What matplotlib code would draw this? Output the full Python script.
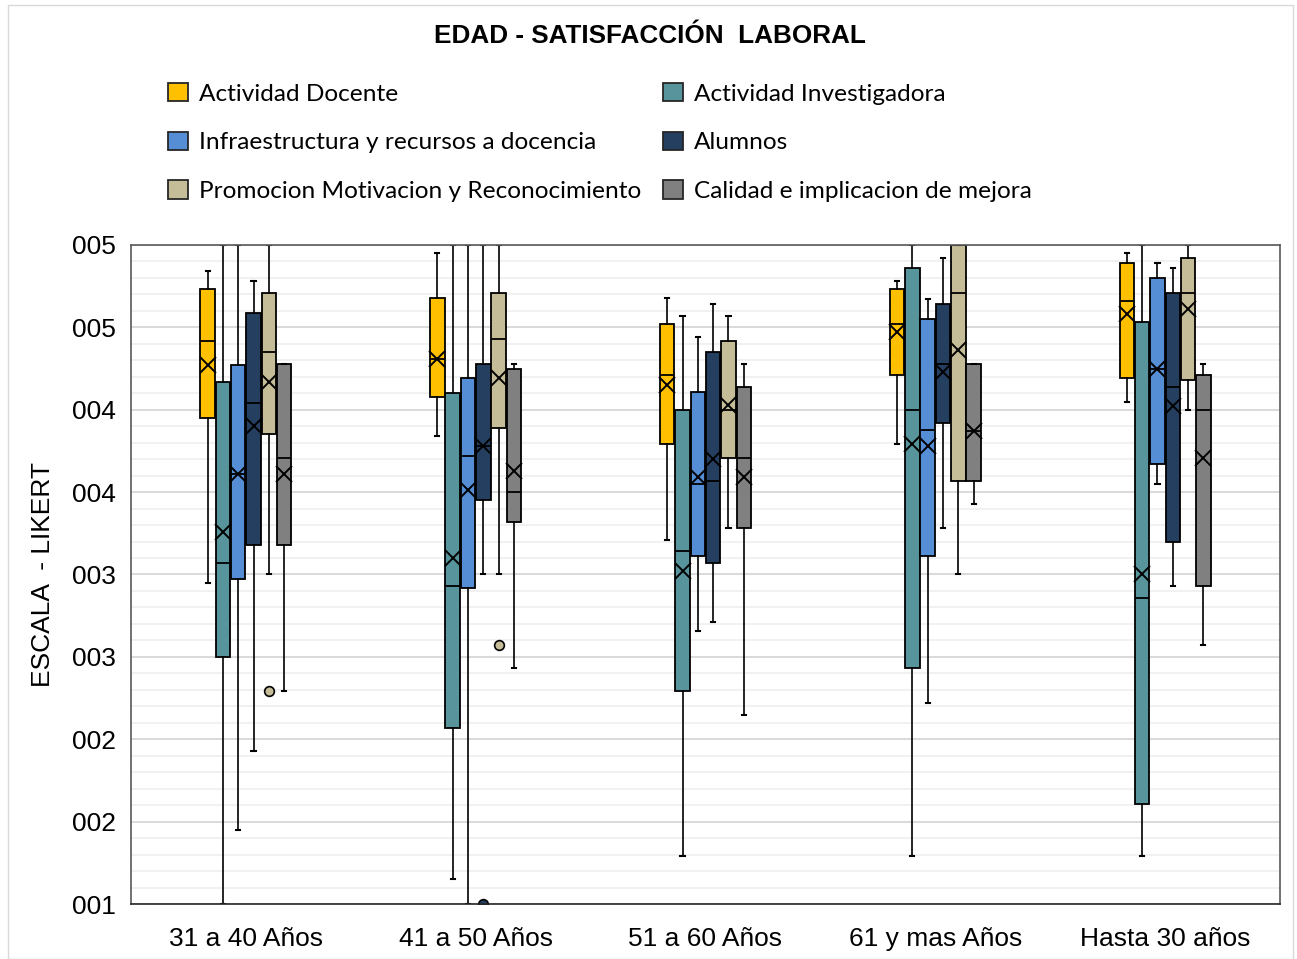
import matplotlib
matplotlib.use("Agg")
import matplotlib.pyplot as plt
from matplotlib.patches import Patch, Rectangle
from matplotlib.ticker import MultipleLocator, FuncFormatter
import numpy as np

categories = ["31 a 40 Años", "41 a 50 Años", "51 a 60 Años", "61 y mas Años", "Hasta 30 años"]
series = ["Actividad Docente", "Actividad Investigadora", "Infraestructura y recursos a docencia",
          "Alumnos", "Promocion Motivacion y Reconocimiento", "Calidad e implicacion de mejora"]
colors = ["#FFC000", "#58949C", "#558ED5", "#243F60", "#C4BD97", "#808080"]

# per series: lists over categories
whislo = [
    [2.95, 3.84, 3.21, 3.79, 4.05],
    [1.00, 1.15, 1.29, 1.29, 1.29],
    [1.45, 1.00, 2.66, 2.22, 3.55],
    [1.93, 3.00, 2.71, 3.28, 2.93],
    [3.00, 3.00, 3.28, 3.00, 4.00],
    [2.29, 2.43, 2.15, 3.43, 2.57],
]
q1 = [
    [3.95, 4.08, 3.79, 4.21, 4.19],
    [2.50, 2.07, 2.29, 2.43, 1.61],
    [2.97, 2.92, 3.11, 3.11, 3.67],
    [3.18, 3.45, 3.07, 3.92, 3.20],
    [3.85, 3.89, 3.71, 3.57, 4.18],
    [3.18, 3.32, 3.28, 3.57, 2.93],
]
med = [
    [4.42, 4.31, 4.21, 4.52, 4.66],
    [3.07, 2.93, 3.14, 4.00, 2.86],
    [3.61, 3.72, 3.55, 3.88, 4.25],
    [4.04, 3.78, 3.57, 4.28, 4.14],
    [4.35, 4.43, 4.00, 4.71, 4.71],
    [3.71, 3.50, 3.71, 3.87, 4.00],
]
q3 = [
    [4.73, 4.68, 4.52, 4.73, 4.89],
    [4.17, 4.10, 4.00, 4.86, 4.53],
    [4.27, 4.19, 4.11, 4.55, 4.80],
    [4.59, 4.28, 4.35, 4.64, 4.71],
    [4.71, 4.71, 4.42, 5.00, 4.92],
    [4.28, 4.25, 4.14, 4.28, 4.21],
]
whishi = [
    [4.84, 4.95, 4.68, 4.78, 4.95],
    [5.00, 5.00, 4.57, 5.00, 5.00],
    [5.00, 5.00, 4.44, 4.67, 4.89],
    [4.78, 5.00, 4.64, 4.92, 4.86],
    [5.00, 5.00, 4.57, 5.00, 5.00],
    [4.28, 4.28, 4.28, 4.28, 4.28],
]
means = [
    [4.27, 4.31, 4.15, 4.47, 4.58],
    [3.26, 3.10, 3.02, 3.79, 3.00],
    [3.61, 3.51, 3.59, 3.78, 4.25],
    [3.90, 3.78, 3.70, 4.23, 4.02],
    [4.17, 4.19, 4.03, 4.36, 4.61],
    [3.61, 3.63, 3.59, 3.87, 3.71],
]
outliers = [
    [[], [], [], [], []],
    [[], [], [], [], []],
    [[], [], [], [], []],
    [[], [1.00], [], [], []],
    [[2.29], [2.57], [], [], []],
    [[], [], [], [], []],
]

fig = plt.figure(figsize=(12.97, 9.59), dpi=100)
fig.patches.append(Rectangle((8 / 1297, 0), 1285 / 1297, 954 / 959, transform=fig.transFigure,
                             fill=False, edgecolor="#D9D9D9", linewidth=1.0))
ax = fig.add_axes([131 / 1297, 1 - 904 / 959, 1149 / 1297, 659 / 959])

step = 0.0667
width = 0.063
for si in range(len(series)):
    stats = []
    for ci in range(len(categories)):
        stats.append(dict(whislo=whislo[si][ci], q1=q1[si][ci], med=med[si][ci], q3=q3[si][ci],
                          whishi=whishi[si][ci], mean=means[si][ci], fliers=outliers[si][ci]))
    pos = np.arange(len(categories)) + (si - 2.5) * step
    ax.bxp(stats, positions=pos, widths=width, patch_artist=True, showmeans=True,
           showfliers=True, manage_ticks=False,
           boxprops=dict(facecolor=colors[si], edgecolor="black", linewidth=1.3),
           medianprops=dict(color="black", linewidth=1.3),
           whiskerprops=dict(color="black", linewidth=1.2),
           capprops=dict(color="black", linewidth=1.5),
           capwidths=0.018,
           meanprops=dict(marker="x", markersize=11, markeredgecolor="black",
                          markeredgewidth=1.4, linestyle="none"),
           flierprops=dict(marker="o", markersize=7, markerfacecolor=colors[si],
                           markeredgecolor="black", markeredgewidth=1.2))

ax.set_xlim(-0.5, len(categories) - 0.5)
ax.set_ylim(1, 5)
ax.set_xticks(np.arange(len(categories)))
ax.set_xticklabels(categories, fontsize=19, family="Liberation Sans")
ax.yaxis.set_major_locator(MultipleLocator(0.5))
ax.yaxis.set_minor_locator(MultipleLocator(0.1))
ax.yaxis.set_major_formatter(FuncFormatter(lambda v, p: f"{int(v + 0.5):03d}"))
for lab in ax.get_yticklabels():
    lab.set_fontsize(19)
    lab.set_family("Liberation Sans")
ax.tick_params(axis="both", which="both", length=0)
ax.tick_params(axis="y", pad=11)
ax.tick_params(axis="x", pad=16.5)
ax.grid(True, which="major", axis="y", color="#D9D9D9", linewidth=1.4)
ax.grid(True, which="minor", axis="y", color="#EFEFEF", linewidth=1.2)
ax.set_axisbelow(True)
for sp in ax.spines.values():
    sp.set_color("#595959")
    sp.set_linewidth(1.2)
ax.spines["bottom"].set_color("#262626")

ax.set_ylabel("ESCALA  - LIKERT", fontsize=19, family="Liberation Sans", labelpad=12)

fig.text(650 / 1297, 1 - 36 / 959, "EDAD - SATISFACCIÓN  LABORAL", ha="center", va="center",
         fontsize=18.8, fontweight="bold", family="Liberation Sans")

order = [0, 2, 4, 1, 3, 5]
handles = [Patch(facecolor=colors[i], edgecolor="#262626", linewidth=1.3) for i in order]
labels = [series[i] for i in order]
leg = fig.legend(handles, labels, ncol=2, loc="upper left",
                 bbox_to_anchor=(168 / 1297, 1 - 83 / 959), frameon=False,
                 prop=dict(family="Lato", size=17.6), handlelength=0.83, handleheight=0.78,
                 handletextpad=0.43, columnspacing=0.9, labelspacing=1.1, borderaxespad=0,
                 borderpad=0)

fig.savefig("out.png", dpi=100)
